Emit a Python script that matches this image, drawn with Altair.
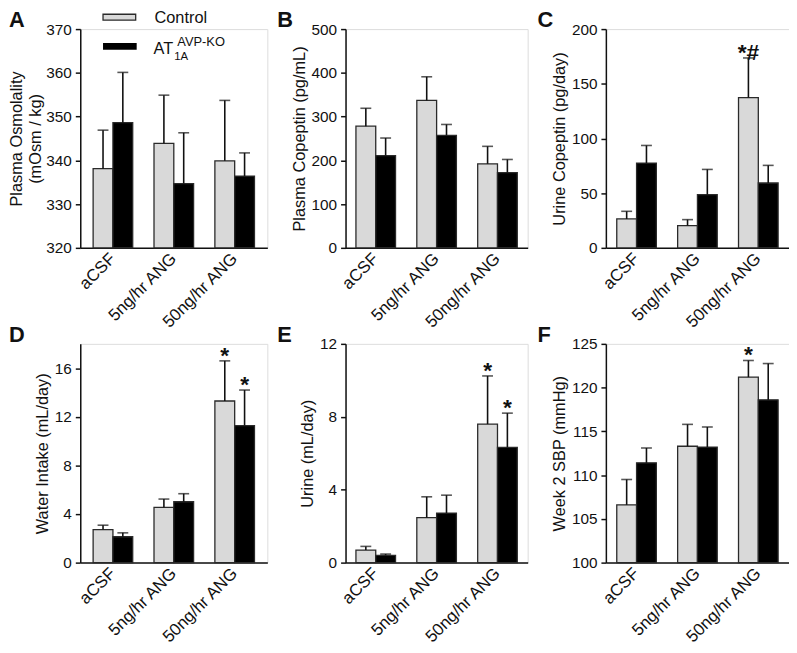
import altair as alt
import pandas as pd

groups = ["aCSF", "5ng/hr ANG", "50ng/hr ANG"]
series = ["Control", "AT1A AVP-KO"]
legend_labels = ["Control", "AT", "1A", "AVP-KO"]
letters = ["A", "B", "C", "D", "E", "F"]

# A: Plasma osmolality
osm_ctrl = [338.1, 343.9, 339.9]
osm_ctrl_sem = [8.8, 11.0, 13.8]
osm_ko = [348.6, 334.7, 336.4]
osm_ko_sem = [11.5, 11.6, 5.3]

# B: Plasma copeptin
pcop_ctrl = [278, 337, 192]
pcop_ctrl_sem = [41, 54, 40]
pcop_ko = [211, 257, 172]
pcop_ko_sem = [40, 25, 30]

# C: Urine copeptin
ucop_ctrl = [26.4, 20.4, 137.4]
ucop_ctrl_sem = [7.0, 5.4, 36.2]
ucop_ko = [77.5, 48.6, 59.3]
ucop_ko_sem = [16.1, 23.1, 16.1]
ucop_sig_ctrl = ["", "", "*#"]
ucop_sig_ko = ["", "", ""]

# D: Water intake
water_ctrl = [2.72, 4.55, 13.3]
water_ctrl_sem = [0.36, 0.68, 3.3]
water_ko = [2.13, 5.01, 11.28]
water_ko_sem = [0.32, 0.66, 2.92]
water_sig_ctrl = ["", "", "*"]
water_sig_ko = ["", "", "*"]

# E: Urine volume
urine_ctrl = [0.69, 2.47, 7.60]
urine_ctrl_sem = [0.20, 1.14, 2.64]
urine_ko = [0.40, 2.72, 6.32]
urine_ko_sem = [0.07, 0.98, 1.88]
urine_sig_ctrl = ["", "", "*"]
urine_sig_ko = ["", "", "*"]

# F: Week 2 SBP
sbp_ctrl = [106.6, 113.3, 121.2]
sbp_ctrl_sem = [2.9, 2.5, 1.9]
sbp_ko = [111.4, 113.2, 118.6]
sbp_ko_sem = [1.7, 2.3, 4.15]
sbp_sig_ctrl = ["", "", "*"]
sbp_sig_ko = ["", "", ""]

none3 = ["", "", ""]

FONT = "Liberation Sans"
INK = "#111111"
GRAY = "#d9d9d9"


def make_df(ctrl, ctrl_sem, ko, ko_sem, sig_ctrl=none3, sig_ko=none3):
    rows = []
    for i, g in enumerate(groups):
        rows.append(dict(group=g, series=series[0], mean=ctrl[i],
                         top=ctrl[i] + ctrl_sem[i], sig=sig_ctrl[i]))
        rows.append(dict(group=g, series=series[1], mean=ko[i],
                         top=ko[i] + ko_sem[i], sig=sig_ko[i]))
    return pd.DataFrame(rows)


def text_layer(txt, x, y, size, bold=False):
    one = alt.Chart(pd.DataFrame({"k": [0]}))
    return one.mark_text(text=txt, align="left", baseline="alphabetic", fontSize=size,
                         fontWeight="bold" if bold else "normal", color=INK,
                         font=FONT).encode(x=alt.value(x), y=alt.value(y))


def panel(df, ymin, ymax, ticks, title, letter, W, letter_dx, H=221, legend=False,
          title_pad=4):
    step = 61.5
    pi = 21.5 / step
    po = (W / step - 3 + pi) / 2
    xax = alt.Axis(title=None, labelAngle=-45, ticks=False, labelPadding=8,
                   labelFontSize=17, domainWidth=1.5, domainColor=INK,
                   labelColor=INK, labelAlign="right", labelBaseline="middle")
    xenc = alt.X("group:N", sort=groups,
                 scale=alt.Scale(paddingInner=pi, paddingOuter=po), axis=xax)
    xoff = alt.XOffset("series:N", sort=series,
                       scale=alt.Scale(paddingInner=0, paddingOuter=0))
    ysc = alt.Scale(domain=[ymin, ymax], zero=False, nice=False)
    yax = alt.Axis(values=ticks, title=title, tickSize=5, labelPadding=4,
                   labelFontSize=15.5, titleFontSize=16.5, titleFontWeight="normal",
                   titleColor=INK, labelColor=INK, domainColor=INK, tickColor=INK,
                   domainWidth=1.5, tickWidth=1.5, titlePadding=title_pad,
                   titleLineHeight=19, grid=False)
    base = alt.Chart(df)
    bars = base.mark_bar(stroke="#2a2a2a", strokeWidth=1.3).encode(
        x=xenc, xOffset=xoff,
        y=alt.Y("mean:Q", scale=ysc, axis=yax),
        y2=alt.datum(ymin),
        color=alt.Color("series:N", scale=alt.Scale(domain=series, range=[GRAY, "#000000"]),
                        legend=None),
    )
    err = base.mark_rule(color=INK, strokeWidth=1.6).encode(
        x=xenc, xOffset=xoff, y=alt.Y("mean:Q", scale=ysc), y2="top:Q")
    caps = base.mark_tick(color=INK, thickness=1.6, size=11, orient="horizontal").encode(
        x=xenc, xOffset=xoff, y=alt.Y("top:Q", scale=ysc))
    sig = base.transform_filter("datum.sig != ''").mark_text(
        fontSize=23, fontWeight="bold", baseline="alphabetic", dy=2, color=INK, font=FONT
    ).encode(x=xenc, xOffset=xoff, y=alt.Y("top:Q", scale=ysc), text="sig:N")
    layers = [bars, err, caps, sig, text_layer(letter, letter_dx, -2, 22, bold=True)]
    if legend:
        one = alt.Chart(pd.DataFrame({"k": [0]}))
        layers += [
            one.mark_rect(fill=GRAY, stroke="#2a2a2a", strokeWidth=1.3).encode(
                x=alt.value(23), x2=alt.value(56), y=alt.value(-15), y2=alt.value(-9)),
            one.mark_rect(fill="#000000").encode(
                x=alt.value(23), x2=alt.value(57), y=alt.value(14), y2=alt.value(21)),
            text_layer(legend_labels[0], 75, -6, 16.5),
            text_layer(legend_labels[1], 74, 25, 16.5),
            text_layer(legend_labels[2], 95, 31, 11.5),
            text_layer(legend_labels[3], 98, 17, 13),
        ]
    return alt.layer(*layers).properties(width=W, height=H)


W1, W2, W3 = 189, 184, 185
ROW_GAP = 97
COL_GAP = 79
PAD_LEFT = 73
PAD_TOP = 18

pA = panel(make_df(osm_ctrl, osm_ctrl_sem, osm_ko, osm_ko_sem), 320, 370,
           [320, 330, 340, 350, 360, 370], ["Plasma Osmolality", "(mOsm / kg)"],
           letters[0], W1, -72, legend=True, title_pad=2)
pB = panel(make_df(pcop_ctrl, pcop_ctrl_sem, pcop_ko, pcop_ko_sem), 0, 500,
           [0, 100, 200, 300, 400, 500], "Plasma Copeptin (pg/mL)", letters[1], W2, -69)
pC = panel(make_df(ucop_ctrl, ucop_ctrl_sem, ucop_ko, ucop_ko_sem, ucop_sig_ctrl, ucop_sig_ko),
           0, 200, [0, 50, 100, 150, 200], "Urine Copeptin (pg/day)", letters[2], W3, -69)
pD = panel(make_df(water_ctrl, water_ctrl_sem, water_ko, water_ko_sem, water_sig_ctrl, water_sig_ko),
           0, 18, [0, 4, 8, 12, 16], "Water Intake (mL/day)", letters[3], W1, -72)
pE = panel(make_df(urine_ctrl, urine_ctrl_sem, urine_ko, urine_ko_sem, urine_sig_ctrl, urine_sig_ko),
           0, 12, [0, 2, 4, 6, 8, 10, 12], "Urine (mL/day)", letters[4], W2, -69)
pF = panel(make_df(sbp_ctrl, sbp_ctrl_sem, sbp_ko, sbp_ko_sem, sbp_sig_ctrl, sbp_sig_ko),
           100, 125, [100, 105, 110, 115, 120, 125], "Week 2 SBP (mmHg)", letters[5], W3, -69)

chart = alt.concat(pA, pB, pC, pD, pE, pF, columns=3).properties(
    spacing={"row": ROW_GAP, "column": COL_GAP},
    bounds="flush",
    autosize=alt.AutoSizeParams(type="none"),
    padding={"left": PAD_LEFT, "top": PAD_TOP,
             "right": 789 - PAD_LEFT, "bottom": 645 - PAD_TOP},
).configure_view(stroke=None).configure(font=FONT)

chart.save("out.html", embed_options={"renderer": "svg", "actions": False})
